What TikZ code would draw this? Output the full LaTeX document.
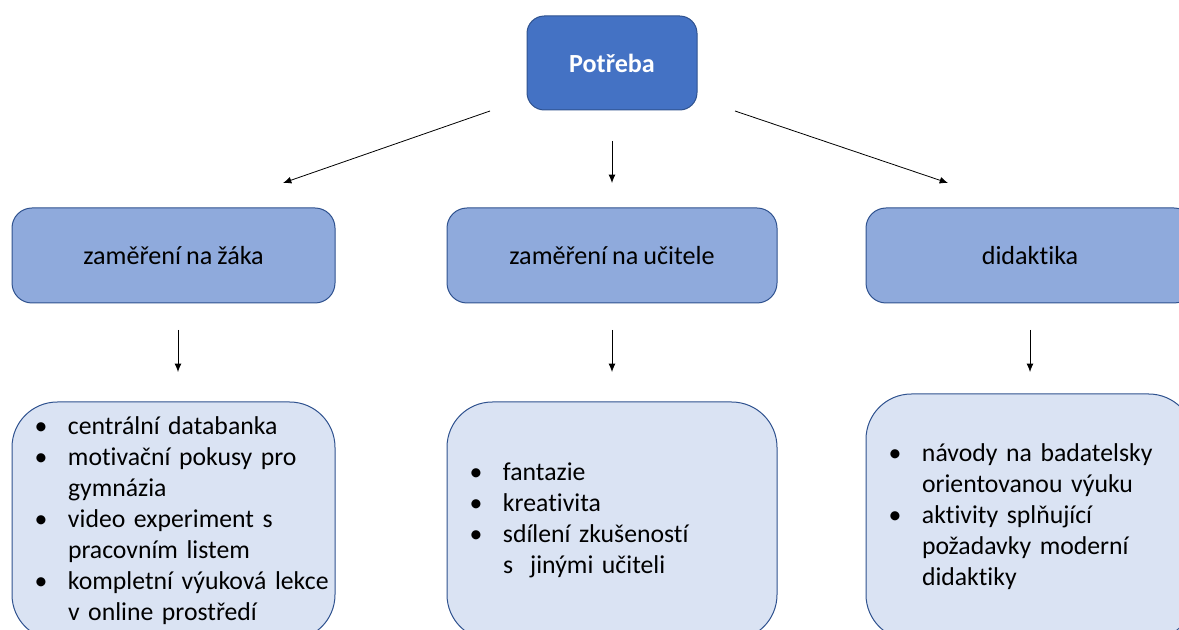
\documentclass[tikz,border=0pt]{standalone}
\usepackage{fontspec}
\setmainfont{Carlito}[Ligatures=NoCommon, WordSpace=0.85]
\usepackage{tikz}
\usetikzlibrary{arrows.meta,positioning}
\definecolor{NeedBlue}{HTML}{4472C4}
\definecolor{NeedEdge}{HTML}{2F528F}
\definecolor{NeedMid}{HTML}{8FAADC}
\definecolor{NeedPale}{HTML}{DAE3F3}
\tikzset{
  need/top/.style={draw=NeedEdge, fill=NeedBlue, line width=0.75pt, rounded corners=13pt, minimum width=127.5pt, minimum height=70.5pt, text=white, font=\fontsize{19.6}{23}\selectfont\bfseries},
  need/cat/.style={draw=NeedEdge, fill=NeedMid, line width=0.75pt, rounded corners=15pt, minimum height=71.25pt, font=\fontsize{19.6}{23}\selectfont},
  need/list/.style={draw=NeedEdge, fill=NeedPale, line width=0.75pt, rounded corners=34pt, minimum height=178.5pt, inner xsep=17pt, align=left, font=\fontsize{19.3}{23.25}\selectfont},
  arr/.style={-{Latex[length=2.2mm,width=1.8mm]}, line width=0.6pt}
}

\begin{document}
\begin{tikzpicture}[x=0.75pt, y=-0.75pt]
  \useasboundingbox (0,0) rectangle (1179,630);
  \clip (0,0) rectangle (1179,630);

  \node[need/top] (need) at (612,63) {Potřeba};

  \node[need/cat, minimum width=242.25pt] (zak) at (173.5,255.5) {zaměření na žáka};
  \node[need/cat, minimum width=247.5pt] (ucitel) at (612,255.5) {zaměření na učitele};
  \node[need/cat, minimum width=246pt] (didak) at (1030,255.5) {didaktika};

  \node[need/list, minimum width=242.25pt, text width=208.25pt] (zaklist) at (173.5,521) {%
    \begin{tabular}{@{}p{25pt}@{}l@{}}
      \textbullet & centrální databanka\\
      \textbullet & motivační pokusy pro\\
                  & gymnázia\\
      \textbullet & video experiment s\\
                  & pracovním listem\\
      \textbullet & kompletní výuková lekce\\
                  & v online prostředí
    \end{tabular}};
  \node[need/list, minimum width=247.5pt, text width=213.5pt] (ucitellist) at (612,521) {%
    \begin{tabular}{@{}p{25pt}@{}l@{}}
      \textbullet & fantazie\\
      \textbullet & kreativita\\
      \textbullet & sdílení zkušeností\\
                  & s~~jinými učiteli
    \end{tabular}};
  \node[need/list, minimum width=246pt, minimum height=184.5pt, text width=212pt] (didaklist) at (1030,517) {%
    \begin{tabular}{@{}p{25pt}@{}l@{}}
      \textbullet & návody na badatelsky\\
                  & orientovanou výuku\\
      \textbullet & aktivity splňující\\
                  & požadavky moderní\\
                  & didaktiky
    \end{tabular}};

  % arrow ends
  \coordinate (needL) at (490,111);
  \coordinate (needM) at (612,141);
  \coordinate (needR) at (735,111);
  \coordinate (zakIn) at (283,183);
  \coordinate (ucitelIn) at (612,183);
  \coordinate (didakIn) at (948,183);
  \coordinate (zakOut) at (178,330);
  \coordinate (ucitelOut) at (612,330);
  \coordinate (didakOut) at (1030,330);
  \coordinate (zaklistIn) at (178,372);
  \coordinate (ucitellistIn) at (612,372);
  \coordinate (didaklistIn) at (1030,372);

  \draw[arr] (needL) -- (zakIn);
  \draw[arr] (needM) -- (ucitelIn);
  \draw[arr] (needR) -- (didakIn);
  \draw[arr] (zakOut) -- (zaklistIn);
  \draw[arr] (ucitelOut) -- (ucitellistIn);
  \draw[arr] (didakOut) -- (didaklistIn);
\end{tikzpicture}
\end{document}
